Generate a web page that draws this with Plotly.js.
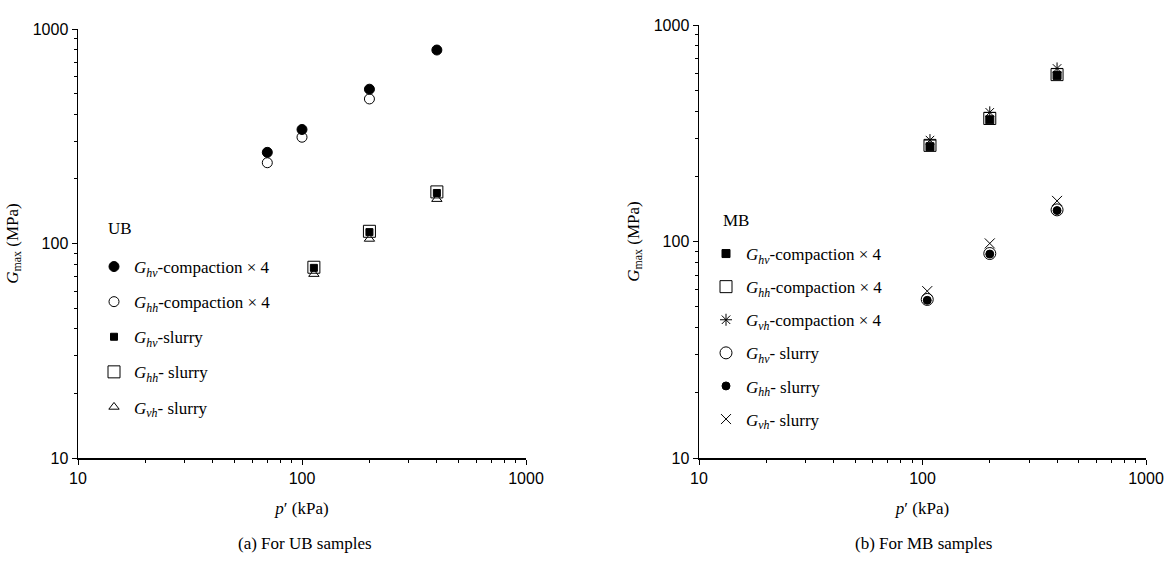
<!DOCTYPE html>
<html>
<head>
<meta charset="utf-8">
<script src="https://cdn.plot.ly/plotly-3.0.1.min.js"></script>
<style>html,body{margin:0;padding:0;background:#fff;}#chart{width:1174px;height:562px;}</style>
</head>
<body>
<div id="chart"></div>
<script>
// ---- UB samples (panel a) ----
const pUB_comp = [70, 100, 200, 400];
const UB_Ghv_comp = [266, 340, 524, 798];
const pUB_comp_hh = [70, 100, 200];
const UB_Ghh_comp = [238, 313, 472];
const pUB_slurry = [113, 200, 400];
const UB_Ghv_slurry = [77, 113, 172];
const UB_Ghh_slurry = [77.5, 114, 174];
const UB_Gvh_slurry = [72, 105, 161];

// ---- MB samples (panel b) ----
const pMB_comp = [108, 200, 400];
const MB_Ghv_comp = [274, 365, 585];
const MB_Ghh_comp = [278, 370, 590];
const MB_Gvh_comp = [294, 395, 630];
const pMB_slurry = [105, 200, 400];
const MB_Ghv_slurry = [54, 88, 140];
const MB_Ghh_slurry = [53.5, 87.5, 139];
const MB_Gvh_slurry = [59, 98, 154];

const legUB = [
  '<i>G<sub>hv</sub></i>-compaction × 4',
  '<i>G<sub>hh</sub></i>-compaction × 4',
  '<i>G<sub>hv</sub></i>-slurry',
  '<i>G<sub>hh</sub></i>- slurry',
  '<i>G<sub>vh</sub></i>- slurry'
];
const legMB = [
  '<i>G<sub>hv</sub></i>-compaction × 4',
  '<i>G<sub>hh</sub></i>-compaction × 4',
  '<i>G<sub>vh</sub></i>-compaction × 4',
  '<i>G<sub>hv</sub></i>- slurry',
  '<i>G<sub>hh</sub></i>- slurry',
  '<i>G<sub>vh</sub></i>- slurry'
];

const W = 1174, H = 562;
const px = v => v / W;
const py = v => 1 - v / H;

function tr(x, y, name, symbol, size, xa, ya, leg, i) {
  return {
    x: x, y: y, name: name, type: 'scatter', mode: 'markers',
    xaxis: xa, yaxis: ya, legend: leg, legendgroup: leg + i,
    marker: {symbol: symbol, size: size, color: '#000', line: {color: '#000', width: 1}},
    hoverinfo: 'skip'
  };
}

const data = [
  tr(pUB_comp, UB_Ghv_comp, legUB[0], 'circle', 10, 'x', 'y', 'legend', 0),
  tr(pUB_comp_hh, UB_Ghh_comp, legUB[1], 'circle-open', 10, 'x', 'y', 'legend', 1),
  tr(pUB_slurry, UB_Ghv_slurry, legUB[2], 'square', 7, 'x', 'y', 'legend', 2),
  tr(pUB_slurry, UB_Ghh_slurry, legUB[3], 'square-open', 12, 'x', 'y', 'legend', 3),
  tr(pUB_slurry, UB_Gvh_slurry, legUB[4], 'triangle-up-open', 9, 'x', 'y', 'legend', 4),

  tr(pMB_comp, MB_Ghv_comp, legMB[0], 'square', 8, 'x2', 'y2', 'legend2', 0),
  tr(pMB_comp, MB_Ghh_comp, legMB[1], 'square-open', 12, 'x2', 'y2', 'legend2', 1),
  tr(pMB_comp, MB_Gvh_comp, legMB[2], 'asterisk-open', 10, 'x2', 'y2', 'legend2', 2),
  tr(pMB_slurry, MB_Ghv_slurry, legMB[3], 'circle-open', 12, 'x2', 'y2', 'legend2', 3),
  tr(pMB_slurry, MB_Ghh_slurry, legMB[4], 'circle', 8, 'x2', 'y2', 'legend2', 4),
  tr(pMB_slurry, MB_Gvh_slurry, legMB[5], 'x-thin-open', 10, 'x2', 'y2', 'legend2', 5)
];

const tickFont = {family: '"Liberation Sans", Arial, sans-serif', size: 16, color: '#000'};
const serif = '"Liberation Serif", "Times New Roman", Times, serif';

function ax(domain, anchor, title, standoff) {
  return {
    type: 'log', range: [1, 3], domain: domain, anchor: anchor,
    dtick: 1, exponentformat: 'none',
    showgrid: false, zeroline: false, showline: true,
    linecolor: '#000', linewidth: 1.5,
    ticks: 'outside', ticklen: 5, tickwidth: 1, tickcolor: '#000',
    minor: {dtick: 'D1', ticks: 'outside', ticklen: 3, tickwidth: 1, tickcolor: '#000', showgrid: false},
    tickfont: tickFont,
    title: {text: title, font: {family: serif, size: 17, color: '#000'}, standoff: standoff},
    automargin: false, fixedrange: true
  };
}

const xT = '<i>p</i>′ (kPa)';
const yT = '<i>G</i><sub>max</sub> (MPa)';

const legBase = {
  bgcolor: 'rgba(0,0,0,0)', borderwidth: 0,
  font: {family: serif, size: 17, color: '#000'},
  xanchor: 'left', yanchor: 'top',
  traceorder: 'grouped', itemclick: false, itemdoubleclick: false
};

const layout = {
  width: W, height: H,
  margin: {l: 0, r: 0, t: 0, b: 0},
  paper_bgcolor: '#fff', plot_bgcolor: 'rgba(0,0,0,0)',
  showlegend: true,
  xaxis: ax([px(78), px(526)], 'y', xT, 16),
  yaxis: ax([py(458), py(29)], 'x', yT, 10),
  xaxis2: ax([px(699), px(1146)], 'y2', xT, 16),
  yaxis2: ax([py(458), py(25)], 'x2', yT, 10),
  legend: Object.assign({}, legBase, {x: px(94), y: py(249), tracegroupgap: 10}),
  legend2: Object.assign({}, legBase, {x: px(706), y: py(236), tracegroupgap: 8}),
  annotations: [
    {text: 'UB', xref: 'paper', yref: 'paper', x: px(106), y: py(228), xanchor: 'left', yanchor: 'middle',
     showarrow: false, font: {family: serif, size: 17, color: '#000'}},
    {text: 'MB', xref: 'paper', yref: 'paper', x: px(721), y: py(220), xanchor: 'left', yanchor: 'middle',
     showarrow: false, font: {family: serif, size: 17, color: '#000'}},
    {text: '(a) For UB samples', xref: 'paper', yref: 'paper', x: px(305), y: py(543), xanchor: 'center', yanchor: 'middle',
     showarrow: false, font: {family: serif, size: 17, color: '#000'}},
    {text: '(b) For MB samples', xref: 'paper', yref: 'paper', x: px(924), y: py(543), xanchor: 'center', yanchor: 'middle',
     showarrow: false, font: {family: serif, size: 17, color: '#000'}}
  ]
};

Plotly.newPlot('chart', data, layout, {displayModeBar: false, staticPlot: true});
</script>
</body>
</html>
